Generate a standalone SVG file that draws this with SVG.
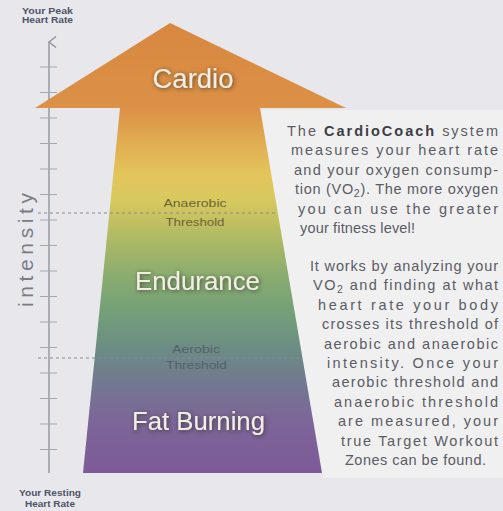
<svg xmlns="http://www.w3.org/2000/svg" width="503" height="511" viewBox="0 0 503 511">
<defs>
<linearGradient id="g" gradientUnits="userSpaceOnUse" x1="0" y1="22" x2="0" y2="473">
<stop offset="0" stop-color="#d8873f"/>
<stop offset="0.195" stop-color="#dc9147"/>
<stop offset="0.262" stop-color="#e0ab52"/>
<stop offset="0.34" stop-color="#e3c55b"/>
<stop offset="0.395" stop-color="#d8c95f"/>
<stop offset="0.46" stop-color="#b8bd62"/>
<stop offset="0.55" stop-color="#8fae6e"/>
<stop offset="0.64" stop-color="#74a078"/>
<stop offset="0.727" stop-color="#6b8c84"/>
<stop offset="0.793" stop-color="#727a8f"/>
<stop offset="0.882" stop-color="#7c6698"/>
<stop offset="1" stop-color="#7e5a98"/>
</linearGradient>
<filter id="sh" x="-20%" y="-40%" width="140%" height="180%">
<feGaussianBlur in="SourceAlpha" stdDeviation="2"/>
<feOffset dx="1" dy="1" result="b"/>
<feFlood flood-color="#2a2a20" flood-opacity="0.75"/>
<feComposite in2="b" operator="in"/>
<feMerge><feMergeNode/><feMergeNode in="SourceGraphic"/></feMerge>
</filter>
<marker id="ah" viewBox="0 0 12 10" refX="6" refY="1" markerWidth="12" markerHeight="10" markerUnits="userSpaceOnUse" orient="auto-start-reverse">
<path d="M0.5,8 L6,1 L11.5,8" fill="none" stroke="#8a8d99" stroke-width="1.3"/>
</marker>
<style>
.big{font-family:"Liberation Sans","DejaVu Sans",sans-serif;fill:#f2eee4;filter:url(#sh)}
.thr{font-family:"Liberation Sans","DejaVu Sans",sans-serif;font-size:11px;text-anchor:middle}
.ax{font-family:"Liberation Sans","DejaVu Sans",sans-serif;font-size:8.5px;font-weight:bold;fill:#4e5468;text-anchor:middle}
.body{font-family:"Liberation Sans","DejaVu Sans",sans-serif;font-size:14.5px;fill:#5a5c64}
.tick{stroke:#a4a7b1;stroke-width:1}
.dash{stroke:#8a8a8c;stroke-width:1;stroke-dasharray:3 3;fill:none}
</style>
</defs>
<rect width="503" height="511" fill="#e8e8ec"/>
<polygon points="260,110 503,110 503,478 323,478" fill="#f0f0f1"/>

<g id="connectors">
<line x1="49" y1="42" x2="49" y2="473" stroke="#8a8d99" stroke-width="1.3" marker-start="url(#ah)"/>
<g class="tick">
<line x1="40" y1="67" x2="57" y2="67"/><line x1="40" y1="92.5" x2="57" y2="92.5"/>
<line x1="40" y1="118" x2="57" y2="118"/><line x1="40" y1="143.5" x2="57" y2="143.5"/>
<line x1="40" y1="169" x2="57" y2="169"/><line x1="40" y1="194.5" x2="57" y2="194.5"/>
<line x1="40" y1="220" x2="57" y2="220"/><line x1="40" y1="245.5" x2="57" y2="245.5"/>
<line x1="40" y1="271" x2="57" y2="271"/><line x1="40" y1="296.5" x2="57" y2="296.5"/>
<line x1="40" y1="322" x2="57" y2="322"/><line x1="40" y1="347.5" x2="57" y2="347.5"/>
<line x1="40" y1="373" x2="57" y2="373"/><line x1="40" y1="398.5" x2="57" y2="398.5"/>
<line x1="40" y1="424" x2="57" y2="424"/><line x1="40" y1="449.5" x2="57" y2="449.5"/>
</g>
</g>

<g id="axis-labels">
<text class="ax" x="47.5" y="14" textLength="51" lengthAdjust="spacingAndGlyphs">Your Peak</text>
<text class="ax" x="47.5" y="23" textLength="51" lengthAdjust="spacingAndGlyphs">Heart Rate</text>
<text class="ax" x="50" y="496" textLength="62" lengthAdjust="spacingAndGlyphs">Your Resting</text>
<text class="ax" x="50" y="507" textLength="50" lengthAdjust="spacingAndGlyphs">Heart Rate</text>
<text x="33" y="250" transform="rotate(-90 33 250)" text-anchor="middle" font-family="Liberation Sans, DejaVu Sans, sans-serif" font-size="21" fill="#7a7c86" textLength="114" lengthAdjust="spacing">intensity</text>
</g>

<g id="arrow">
<polygon points="170,23 346,108 260,108 322,473 83,473 120,108 35,108" fill="url(#g)"/>
</g>

<g id="thresholds">
<line class="dash" x1="38" y1="213" x2="278" y2="213"/>
<line class="dash" x1="38" y1="358" x2="302" y2="358"/>
</g>

<g id="cardio"><text class="big" x="193" y="88" font-size="27" text-anchor="middle" textLength="81" lengthAdjust="spacingAndGlyphs">Cardio</text></g>
<g id="anaerobic">
<text class="thr" x="195" y="207" fill="#6b6535" textLength="63" lengthAdjust="spacingAndGlyphs">Anaerobic</text>
<text class="thr" x="195" y="226" fill="#6b6535" textLength="59" lengthAdjust="spacingAndGlyphs">Threshold</text>
</g>
<g id="endurance"><text class="big" x="197.5" y="290" font-size="25" text-anchor="middle" textLength="125" lengthAdjust="spacingAndGlyphs">Endurance</text></g>
<g id="aerobic">
<text class="thr" x="196" y="353" fill="#56606c" textLength="48" lengthAdjust="spacingAndGlyphs">Aerobic</text>
<text class="thr" x="196.5" y="369" fill="#56606c" textLength="61" lengthAdjust="spacingAndGlyphs">Threshold</text>
</g>
<g id="fatburning"><text class="big" x="198.5" y="430" font-size="25" text-anchor="middle" textLength="133" lengthAdjust="spacingAndGlyphs">Fat Burning</text></g>

<g id="description">
<text class="body" x="287" y="136" textLength="211" lengthAdjust="spacing">The <tspan font-weight="bold" fill="#3c3e46">CardioCoach</tspan> system</text>
<text class="body" x="291" y="155.4" textLength="207" lengthAdjust="spacing">measures your heart rate</text>
<text class="body" x="294" y="174.8" textLength="204" lengthAdjust="spacing">and your oxygen consump-</text>
<text class="body" x="295" y="194.2" textLength="203" lengthAdjust="spacing">tion (VO<tspan font-size="10.5" dy="3">2</tspan><tspan dy="-3">). The more oxygen</tspan></text>
<text class="body" x="298" y="213.6" textLength="200" lengthAdjust="spacing">you can use the greater</text>
<text class="body" x="300" y="233" textLength="115" lengthAdjust="spacing">your fitness level!</text>

<text class="body" x="310" y="271" textLength="188" lengthAdjust="spacing">It works by analyzing your</text>
<text class="body" x="313" y="290.4" textLength="185" lengthAdjust="spacing">VO<tspan font-size="10.5" dy="3">2</tspan><tspan dy="-3"> and finding at what</tspan></text>
<text class="body" x="318" y="309.8" textLength="180" lengthAdjust="spacing">heart rate your body</text>
<text class="body" x="322" y="329.2" textLength="176" lengthAdjust="spacing">crosses its threshold of</text>
<text class="body" x="324" y="348.6" textLength="174" lengthAdjust="spacing">aerobic and anaerobic</text>
<text class="body" x="327" y="368" textLength="171" lengthAdjust="spacing">intensity. Once your</text>
<text class="body" x="332" y="387.4" textLength="166" lengthAdjust="spacing">aerobic threshold and</text>
<text class="body" x="334" y="406.8" textLength="164" lengthAdjust="spacing">anaerobic threshold</text>
<text class="body" x="338" y="426.2" textLength="160" lengthAdjust="spacing">are measured, your</text>
<text class="body" x="341" y="445.6" textLength="157" lengthAdjust="spacing">true Target Workout</text>
<text class="body" x="345" y="465" textLength="141" lengthAdjust="spacing">Zones can be found.</text>
</g>
</svg>
